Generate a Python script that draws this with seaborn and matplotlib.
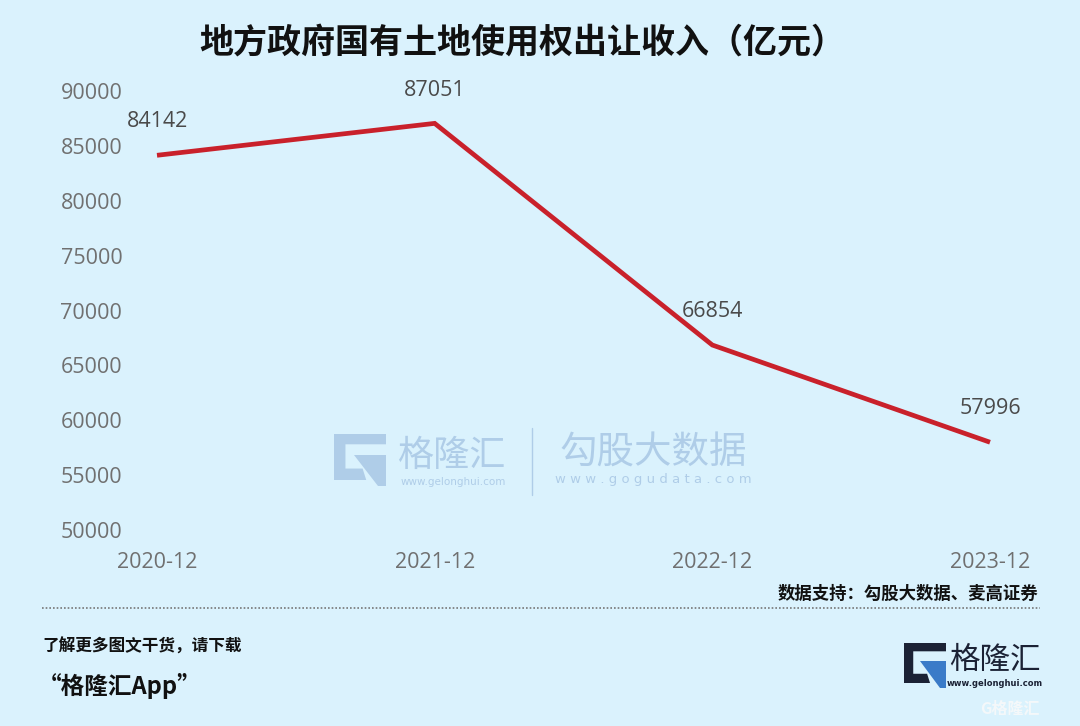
import matplotlib
matplotlib.use("Agg")
import matplotlib.pyplot as plt
import seaborn as sns
import pandas as pd
from matplotlib.patches import Polygon
from matplotlib.lines import Line2D

periods = ["2020-12", "2021-12", "2022-12", "2023-12"]
income = [84142, 87051, 66854, 57996]
yticks = [50000, 55000, 60000, 65000, 70000, 75000, 80000, 85000, 90000]

title = "地方政府国有土地使用权出让收入（亿元）"
source = "数据支持：勾股大数据、麦高证券"

BG = "#DAF2FD"
sns.set_theme(style="white")
plt.rcParams['font.family'] = ['Noto Sans CJK SC', 'DejaVu Sans']

df = pd.DataFrame({"period": periods, "income": income})
df["x"] = range(len(df))

fig = plt.figure(figsize=(10.8, 7.26), dpi=100, facecolor=BG)
ax = fig.add_axes([157/1080, 1-530/726, (990-157)/1080, (530-91)/726])
ax.set_facecolor(BG)

sns.lineplot(data=df, x="x", y="income", ax=ax, color="#C9212B", linewidth=3.4,
             solid_capstyle="butt", solid_joinstyle="miter", clip_on=False)

num_font = ['Open Sans', 'DejaVu Sans']
ax.set_xlim(0, 3)
ax.set_ylim(50000, 90000)
ax.set_yticks(yticks)
ax.set_yticklabels([str(v) for v in yticks], fontsize=15.5, color="#707070", family=num_font)
ax.set_xticks(df["x"])
ax.set_xticklabels(periods, fontsize=15.5, color="#707070", family=num_font)
ax.tick_params(axis="y", pad=25, length=0)
ax.tick_params(axis="x", pad=16, length=0)
ax.set_xlabel("")
ax.set_ylabel("")
for s in ax.spines.values():
    s.set_visible(False)

for xi, v in zip(df["x"], df["income"]):
    ax.annotate(str(v), (xi, v), xytext=(0, 24), textcoords="offset points",
                ha="center", va="center", fontsize=15.5, color="#4A4A4A",
                family=num_font, annotation_clip=False)

# Title
fig.text(522/1080, 1-42/726, title, ha="center", va="center", fontsize=24.5,
         fontweight="bold", color="#111111")

# Source
fig.text(1038/1080, 1-594/726, source, ha="right", va="center", fontsize=12.5,
         fontweight="bold", color="#111111")

# dotted separator
fig.add_artist(Line2D([42/1080, 1040/1080], [1-608/726, 1-608/726], transform=fig.transFigure,
                      color="#777777", linewidth=1.2, linestyle=(0, (1, 1.2))))

fig.text(42/1080, 1-647/726, "了解更多图文干货，请下载", ha="left", va="center", fontsize=12,
         fontweight="bold", style="italic", color="#111111")
fig.text(38/1080, 1-686/726, "“格隆汇App”", ha="left", va="center", fontsize=17,
         fontweight="bold", style="italic", color="#111111")


def g_logo(x0, y0, w, h, dark, accent):
    def P(px, py):
        return (px/1080, 1-py/726)
    t = w*0.22
    outer = [P(x0, y0), P(x0+w, y0), P(x0+w, y0+t*0.9), P(x0+t, y0+t*0.9),
             P(x0+t, y0+h-t), P(x0+w*0.55, y0+h-t), P(x0+w*0.62, y0+h), P(x0, y0+h)]
    fig.add_artist(Polygon(outer, closed=True, transform=fig.transFigure, facecolor=dark,
                           edgecolor="none"))
    acc = [P(x0+w*0.38, y0+h*0.45), P(x0+w, y0+h*0.45), P(x0+w, y0+h*1.12),
           P(x0+w*0.85, y0+h*1.12)]
    fig.add_artist(Polygon(acc, closed=True, transform=fig.transFigure, facecolor=accent,
                           edgecolor="none"))


# Center watermark
wm = "#AFCDE8"
g_logo(334, 434, 52, 46, wm, wm)
fig.text(452/1080, 1-456/726, "格隆汇", ha="center", va="center", fontsize=26, color=wm)
fig.text(453/1080, 1-482/726, "www.gelonghui.com", ha="center", va="center", fontsize=7.5,
         color=wm, family=['DejaVu Sans'])
fig.add_artist(Line2D([532/1080, 532/1080], [1-428/726, 1-495/726], transform=fig.transFigure,
                      color=wm, linewidth=1))
fig.text(653/1080, 1-453/726, "勾股大数据", ha="center", va="center", fontsize=27, color=wm)
fig.text(653/1080, 1-480/726, "w w w . g o g u d a t a . c o m", ha="center", va="center",
         fontsize=9.5, color=wm, family=['DejaVu Sans'])

# Bottom-right logo
g_logo(904, 643, 42, 40, "#1B2235", "#3A7BC8")
fig.text(995/1080, 1-660/726, "格隆汇", ha="center", va="center", fontsize=22, color="#1B2235")
fig.text(995/1080, 1-683/726, "www.gelonghui.com", ha="center", va="center", fontsize=6,
         color="#1B2235", fontweight="bold", family=['DejaVu Sans'])

# tiny corner watermark
fig.text(1040/1080, 1-709/726, "G格隆汇", ha="right", va="center", fontsize=11.5,
         color="#F4F8FA", fontweight="bold")

fig.savefig("out.png", dpi=100, facecolor=BG)
